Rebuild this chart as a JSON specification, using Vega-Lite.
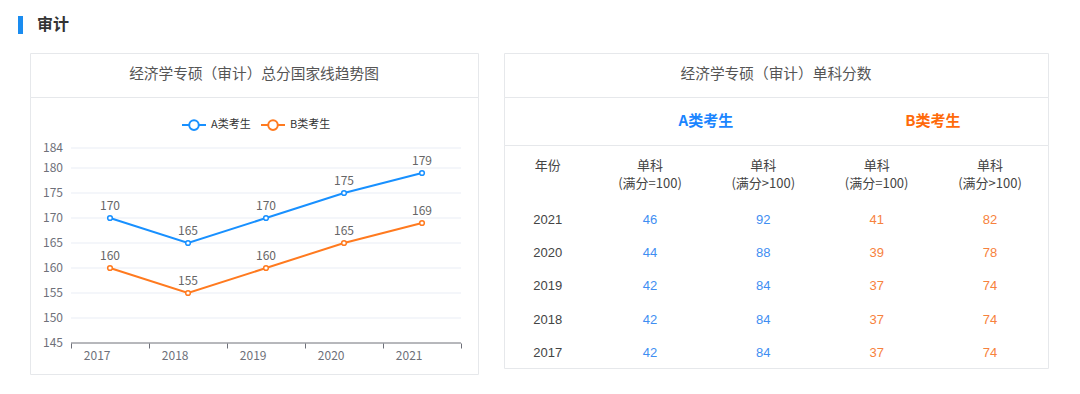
{
  "$schema": "https://vega.github.io/schema/vega-lite/v6.json",
  "background": "white",
  "padding": {"left": 18, "top": 16, "right": 0, "bottom": 0},
  "config": {"view": {"stroke": null}, "font": "Noto Sans CJK SC"},
  "datasets": {
    "scores": [
      {"year": 2017, "group": "A类考生", "score": 170},
      {"year": 2018, "group": "A类考生", "score": 165},
      {"year": 2019, "group": "A类考生", "score": 170},
      {"year": 2020, "group": "A类考生", "score": 175},
      {"year": 2021, "group": "A类考生", "score": 179},
      {"year": 2017, "group": "B类考生", "score": 160},
      {"year": 2018, "group": "B类考生", "score": 155},
      {"year": 2019, "group": "B类考生", "score": 160},
      {"year": 2020, "group": "B类考生", "score": 165},
      {"year": 2021, "group": "B类考生", "score": 169}
    ],
    "grid": [{"g": 150}, {"g": 155}, {"g": 160}, {"g": 165}, {"g": 170}, {"g": 175}, {"g": 180}, {"g": 184}],
    "ylabels": [{"v": 145}, {"v": 150}, {"v": 155}, {"v": 160}, {"v": 165}, {"v": 170}, {"v": 175}, {"v": 180}, {"v": 184}],
    "head": [
      {"c": "A1", "r": "表头", "t": "单科\n(满分=100)"},
      {"c": "A2", "r": "表头", "t": "单科\n(满分>100)"},
      {"c": "B1", "r": "表头", "t": "单科\n(满分=100)"},
      {"c": "B2", "r": "表头", "t": "单科\n(满分>100)"}
    ],
    "years": [
      {"c": "年份", "r": "2021", "t": "2021"},
      {"c": "年份", "r": "2020", "t": "2020"},
      {"c": "年份", "r": "2019", "t": "2019"},
      {"c": "年份", "r": "2018", "t": "2018"},
      {"c": "年份", "r": "2017", "t": "2017"}
    ],
    "cells": [
      {"c": "A1", "r": "2021", "t": "46", "g": "A"}, {"c": "A2", "r": "2021", "t": "92", "g": "A"}, {"c": "B1", "r": "2021", "t": "41", "g": "B"}, {"c": "B2", "r": "2021", "t": "82", "g": "B"},
      {"c": "A1", "r": "2020", "t": "44", "g": "A"}, {"c": "A2", "r": "2020", "t": "88", "g": "A"}, {"c": "B1", "r": "2020", "t": "39", "g": "B"}, {"c": "B2", "r": "2020", "t": "78", "g": "B"},
      {"c": "A1", "r": "2019", "t": "42", "g": "A"}, {"c": "A2", "r": "2019", "t": "84", "g": "A"}, {"c": "B1", "r": "2019", "t": "37", "g": "B"}, {"c": "B2", "r": "2019", "t": "74", "g": "B"},
      {"c": "A1", "r": "2018", "t": "42", "g": "A"}, {"c": "A2", "r": "2018", "t": "84", "g": "A"}, {"c": "B1", "r": "2018", "t": "37", "g": "B"}, {"c": "B2", "r": "2018", "t": "74", "g": "B"},
      {"c": "A1", "r": "2017", "t": "42", "g": "A"}, {"c": "A2", "r": "2017", "t": "84", "g": "A"}, {"c": "B1", "r": "2017", "t": "37", "g": "B"}, {"c": "B2", "r": "2017", "t": "74", "g": "B"}
    ]
  },
  "spacing": 18,
  "vconcat": [
    {
      "hconcat": [
        {"width": 5, "height": 18, "data": {"values": [{"k": "bar"}]}, "mark": {"type": "rect", "color": "#1a8cf0"}, "encoding": {}},
        {"width": 32, "height": 18, "data": {"values": [{"t": "审计"}]}, "mark": {"type": "text", "fontSize": 16, "fontWeight": "bold", "color": "#333333"}, "encoding": {"text": {"field": "t"}}}
      ],
      "spacing": 13
    },
    {
      "hconcat": [
        {"width": 1, "height": 1, "data": {"values": []}, "mark": "text", "encoding": {}},
        {
          "hconcat": [
            {
              "vconcat": [
                {"width": 448, "height": 44, "view": {"stroke": "#e6e8eb"}, "data": {"values": [{"t": "经济学专硕（审计）总分国家线趋势图"}]}, "mark": {"type": "text", "fontSize": 14.7, "color": "#555555"}, "encoding": {"text": {"field": "t"}}},
                {
                  "width": 448, "height": 277, "view": {"stroke": "#e6e8eb"},
                  "data": {"name": "scores"},
                  "layer": [
                    {"data": {"name": "grid"}, "mark": {"type": "rule", "color": "#e9edf5", "strokeWidth": 1},
                     "encoding": {
                       "y": {"field": "g", "type": "quantitative", "scale": {"domain": [138.8, 194.2], "nice": false, "zero": false}, "axis": null},
                       "x": {"datum": 2017, "type": "ordinal", "bandPosition": 0}, "x2": {"datum": 2021, "bandPosition": 1}}},
                    {"data": {"values": [{"k": 1}]}, "mark": {"type": "rule", "color": "#6e7079", "strokeWidth": 1},
                     "encoding": {"y": {"datum": 145, "type": "quantitative", "axis": null}, "x": {"datum": 2017, "type": "ordinal", "bandPosition": 0}, "x2": {"datum": 2021, "bandPosition": 1}}},
                    {"data": {"name": "ylabels"}, "mark": {"type": "text", "align": "right", "baseline": "middle", "dx": -8, "fontSize": 12, "color": "#6e7079"},
                     "encoding": {"y": {"field": "v", "type": "quantitative", "axis": null}, "x": {"datum": 2017, "type": "ordinal", "bandPosition": 0}, "text": {"field": "v"}}},
                    {"mark": {"type": "line", "strokeWidth": 2},
                     "encoding": {
                       "x": {"field": "year", "type": "ordinal", "scale": {"type": "band", "paddingInner": 0, "paddingOuter": 0.3718, "align": 0.707},
                             "axis": {"title": null, "offset": -31, "domain": false, "tickBand": "extent", "tickColor": "#6e7079", "tickSize": 5, "labelColor": "#6e7079", "labelFontSize": 12, "labelPadding": 7, "labelAngle": 0, "grid": false}},
                       "y": {"field": "score", "type": "quantitative", "axis": null},
                       "color": {"field": "group", "type": "nominal", "scale": {"domain": ["A类考生", "B类考生"], "range": ["#1890ff", "#ff7a1f"]},
                                 "legend": {"title": null, "orient": "none", "legendX": 151, "legendY": 59, "direction": "horizontal",
                                            "symbolType": "M-1,0L-0.4,0M0.4,0L1,0M0.4,0A0.4,0.4,0,1,1,-0.4,0A0.4,0.4,0,1,1,0.4,0",
                                            "symbolSize": 576, "symbolStrokeWidth": 2, "symbolFillColor": "white",
                                            "labelFontSize": 11, "labelColor": "#333333", "columnPadding": 6, "labelOffset": 4}}
                     }},
                    {"mark": {"type": "point", "shape": "circle", "filled": false, "fill": "white", "size": 22, "strokeWidth": 1.5, "opacity": 1},
                     "encoding": {"x": {"field": "year", "type": "ordinal"}, "y": {"field": "score", "type": "quantitative", "axis": null}, "color": {"field": "group", "type": "nominal"}}},
                    {"mark": {"type": "text", "dy": -12, "fontSize": 12, "color": "#666666"},
                     "encoding": {"x": {"field": "year", "type": "ordinal"}, "y": {"field": "score", "type": "quantitative", "axis": null}, "text": {"field": "score"}}}
                  ]
                }
              ],
              "spacing": 0,
              "bounds": "flush"
            },
            {
              "vconcat": [
                {"width": 544, "height": 44, "view": {"stroke": "#e6e8eb"}, "data": {"values": [{"t": "经济学专硕（审计）单科分数"}]}, "mark": {"type": "text", "fontSize": 14.7, "color": "#555555"}, "encoding": {"text": {"field": "t"}}},
                {"width": 544, "height": 48, "view": {"stroke": "#e6e8eb"}, "data": {"values": [{"g": "A类考生"}, {"g": "B类考生"}]},
                 "mark": {"type": "text", "fontSize": 15, "fontWeight": "bold"},
                 "encoding": {
                   "x": {"field": "g", "type": "nominal", "scale": {"type": "point", "padding": 0.698, "align": 0.637}, "axis": null},
                   "text": {"field": "g"},
                   "color": {"field": "g", "type": "nominal", "scale": {"domain": ["A类考生", "B类考生"], "range": ["#1a85ff", "#ff6a0a"]}, "legend": null}
                 }},
                {
                  "width": 544, "height": 223, "view": {"stroke": "#e6e8eb"},
                  "encoding": {
                    "x": {"field": "c", "type": "nominal", "scale": {"type": "point", "domain": ["年份", "A1", "A2", "B1", "B2"], "padding": 0.4, "align": 0.36}, "axis": null},
                    "y": {"field": "r", "type": "nominal", "scale": {"type": "point", "domain": ["表头", "2021", "2020", "2019", "2018", "2017"], "padding": 0.853, "align": 0.7}, "axis": null},
                    "text": {"field": "t"}
                  },
                  "layer": [
                    {"data": {"values": [{"c": "年份", "r": "表头", "t": "年份"}]}, "mark": {"type": "text", "dx": 11, "dy": -19, "fontSize": 13, "color": "#444444"}},
                    {"data": {"name": "head"}, "mark": {"type": "text", "dy": -19, "fontSize": 13, "color": "#444444", "lineBreak": "\n", "lineHeight": 18}},
                    {"data": {"name": "years"}, "mark": {"type": "text", "dx": 11, "dy": 2, "fontSize": 13, "color": "#444444", "font": "Liberation Sans"}},
                    {"data": {"name": "cells"}, "mark": {"type": "text", "dy": 2, "fontSize": 13, "font": "Liberation Sans"},
                     "encoding": {"color": {"field": "g", "type": "nominal", "scale": {"domain": ["A", "B"], "range": ["#3f8ef2", "#f7823d"]}, "legend": null}}}
                  ]
                }
              ],
              "spacing": 0,
              "bounds": "flush",
              "resolve": {"scale": {"color": "independent"}}
            }
          ],
          "spacing": 24,
          "resolve": {"scale": {"color": "independent"}}
        }
      ],
      "spacing": 10
    }
  ]
}
